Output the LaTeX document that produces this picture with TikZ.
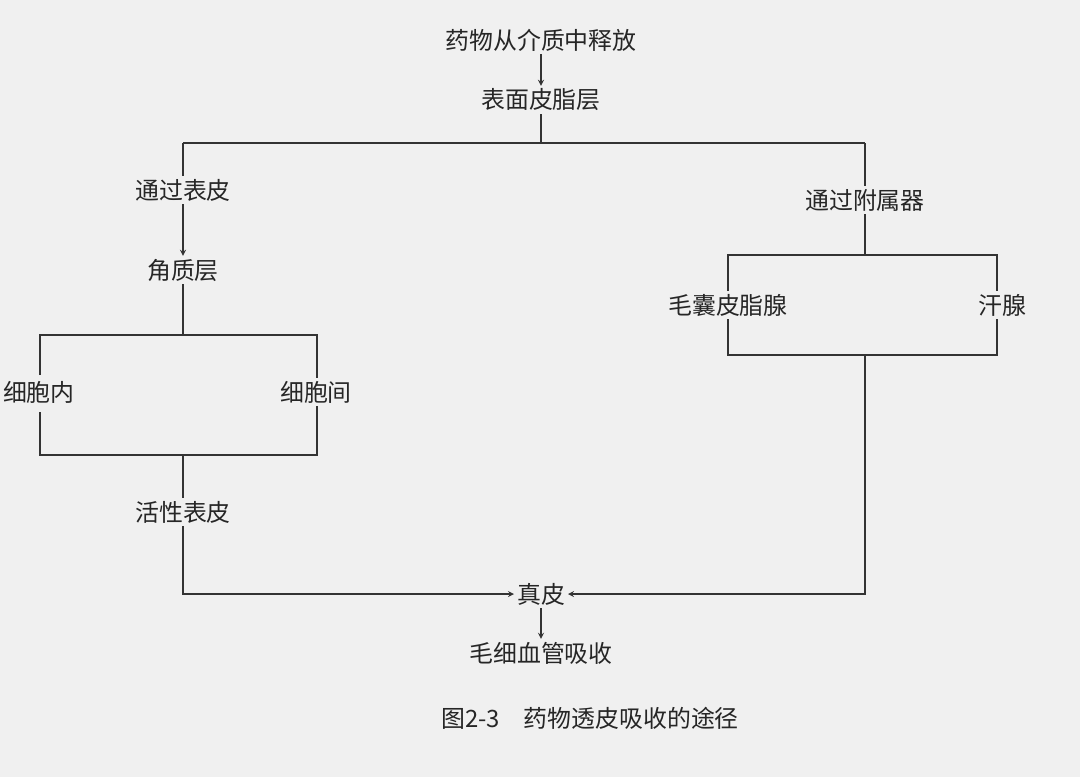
\documentclass[tikz,border=0pt]{standalone}
\usepackage{fontspec}
\newfontfamily\cjk{Noto Sans CJK SC}
\usetikzlibrary{positioning}
\tikzset{
  lbl/.style={font=\cjk\fontsize{17}{20}\selectfont, inner sep=2pt, text=black!85},
  ln/.style={line width=0.9pt, black!80},
  arr/.style={ln, ->, >=stealth}
}
\begin{document}
\begin{tikzpicture}[x=0.025cm,y=-0.025cm]
  \fill[black!6] (0,0) rectangle (1080,777);
  \useasboundingbox (0,0) rectangle (1080,777);
  % top
  \node[lbl] (release) at (541,40) {药物从介质中释放};
  \node[lbl] (sebum) at (541,100) {表面皮脂层};
  \draw[arr] (release) -- (sebum);
  \coordinate (split) at (541,143);
  \coordinate (tl) at (183,143);
  \coordinate (tr) at (865,143);
  \draw[ln] (sebum) -- (split);
  \draw[ln] (tl) -- (tr);
  % left branch
  \node[lbl] (epi) at (183,190) {通过表皮};
  \node[lbl] (horny) at (183,270) {角质层};
  \draw[ln] (tl) -- (epi);
  \draw[arr] (epi) -- (horny);
  \node[lbl, anchor=west] (intra) at (0,392) {细胞内};
  \node[lbl] (inter) at (316,392) {细胞间};
  \coordinate (lt) at (183,335);
  \coordinate (lb) at (183,455);
  \draw[ln] (horny) -- (lt);
  \draw[ln] (40,375) |- (317,335) -- (inter.north -| 317,0);
  \draw[ln] (40,412) |- (317,455) -- (inter.south -| 317,0);
  \node[lbl] (viable) at (183,512) {活性表皮};
  \draw[ln] (lb) -- (viable);
  % right branch
  \node[lbl] (app) at (865,200) {通过附属器};
  \draw[ln] (tr) -- (app);
  \coordinate (rt) at (865,255);
  \coordinate (rb) at (865,355);
  \draw[ln] (app) -- (rt);
  \node[lbl] (follicle) at (728,305) {毛囊皮脂腺};
  \node[lbl] (sweat) at (1002,305) {汗腺};
  \draw[ln] (follicle.north -| 728,0) |- (997,255) -- (sweat.north -| 997,0);
  \draw[ln] (follicle.south -| 728,0) |- (997,355) -- (sweat.south -| 997,0);
  % dermis
  \node[lbl] (dermis) at (541,594) {真皮};
  \node[lbl] (capil) at (541,653) {毛细血管吸收};
  \draw[arr] (viable) |- (dermis.west);
  \draw[arr] (rb) |- (dermis.east);
  \draw[arr] (dermis) -- (capil);
  % caption
  \node[lbl] (cap) at (590,718) {图2-3\quad 药物透皮吸收的途径};
\end{tikzpicture}
\end{document}
